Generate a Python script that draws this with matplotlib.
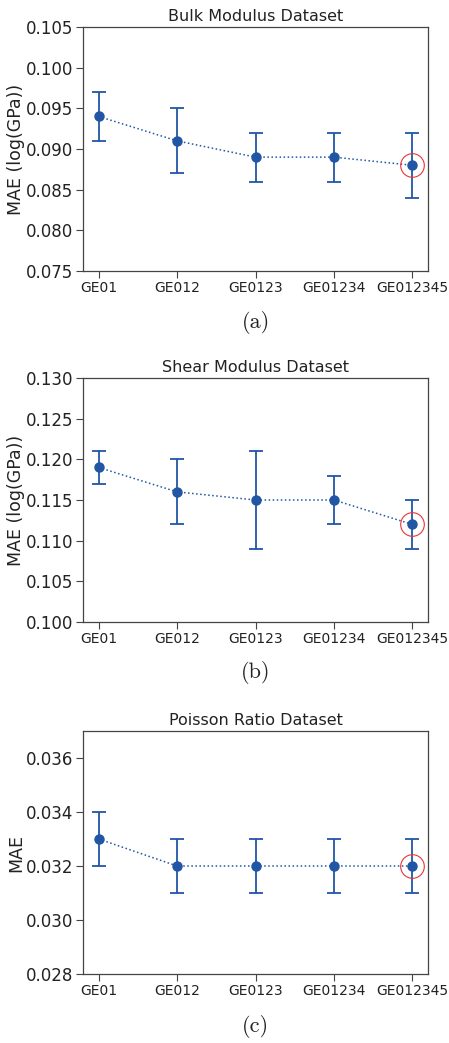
import numpy as np
import matplotlib
matplotlib.use("Agg")
import matplotlib.pyplot as plt

models = ["GE01", "GE012", "GE0123", "GE01234", "GE012345"]

bulk_mae = [0.094, 0.091, 0.089, 0.089, 0.088]
bulk_err = [0.003, 0.004, 0.003, 0.003, 0.004]

shear_mae = [0.119, 0.116, 0.115, 0.115, 0.112]
shear_err = [0.002, 0.004, 0.006, 0.003, 0.003]

poisson_mae = [0.033, 0.032, 0.032, 0.032, 0.032]
poisson_err = [0.001, 0.001, 0.001, 0.001, 0.001]

titles = ["Bulk Modulus Dataset", "Shear Modulus Dataset", "Poisson Ratio Dataset"]
ylabels = ["MAE (log(GPa))", "MAE (log(GPa))", "MAE"]
captions = ["(a)", "(b)", "(c)"]
ylims = [(0.075, 0.105), (0.100, 0.130), (0.028, 0.037)]
yticks = [np.arange(0.075, 0.1051, 0.005), np.arange(0.100, 0.1301, 0.005),
          np.arange(0.028, 0.0361, 0.002)]

blue = "#2156a5"
W, H = 449, 1043
fig = plt.figure(figsize=(W / 100, H / 100), dpi=100)

# axes boxes in pixels: (top, bottom), caption y
boxes = [(27, 271, 323), (378, 622, 673), (731, 974, 1027)]
left, right = 83, 428

data = [(bulk_mae, bulk_err), (shear_mae, shear_err), (poisson_mae, poisson_err)]
for i, (mae, err) in enumerate(data):
    top, bot, cap_y = boxes[i]
    ax = fig.add_axes([left / W, 1 - bot / H, (right - left) / W, (bot - top) / H])
    x = np.arange(len(models))
    ax.errorbar(x, mae, yerr=err, fmt="o", color=blue, ms=6.5, capsize=4.8,
                elinewidth=1.3, capthick=1.3, zorder=3)
    ax.plot(x, mae, ":", color=blue, lw=1.1, zorder=2)
    # highlight best model
    ax.plot(x[-1], mae[-1], "o", ms=17, mfc="none", mec="#ee3333", mew=0.8, zorder=4)
    ax.set_xlim(-0.2, 4.2)
    ax.set_ylim(*ylims[i])
    ax.set_yticks(yticks[i])
    ax.set_yticklabels(["%.3f" % v for v in yticks[i]], fontsize=12)
    ax.set_xticks(x)
    ax.set_xticklabels(models, fontsize=10)
    ax.set_ylabel(ylabels[i], fontsize=12.5, color="#222222")
    ax.yaxis.set_label_coords((25 - left) / (right - left), 0.5)
    ax.set_title(titles[i], fontsize=11.5, color="#222222", pad=4)
    for s in ax.spines.values():
        s.set_color("#444444")
        s.set_linewidth(0.9)
    ax.tick_params(color="#444444", labelcolor="#222222", length=5, pad=2)
    fig.text(0.5 * (left + right) / W, 1 - cap_y / H, captions[i], ha="center",
             va="center", fontsize=16, family="cmr10", color="#222222")

fig.savefig("out.png", dpi=100)
